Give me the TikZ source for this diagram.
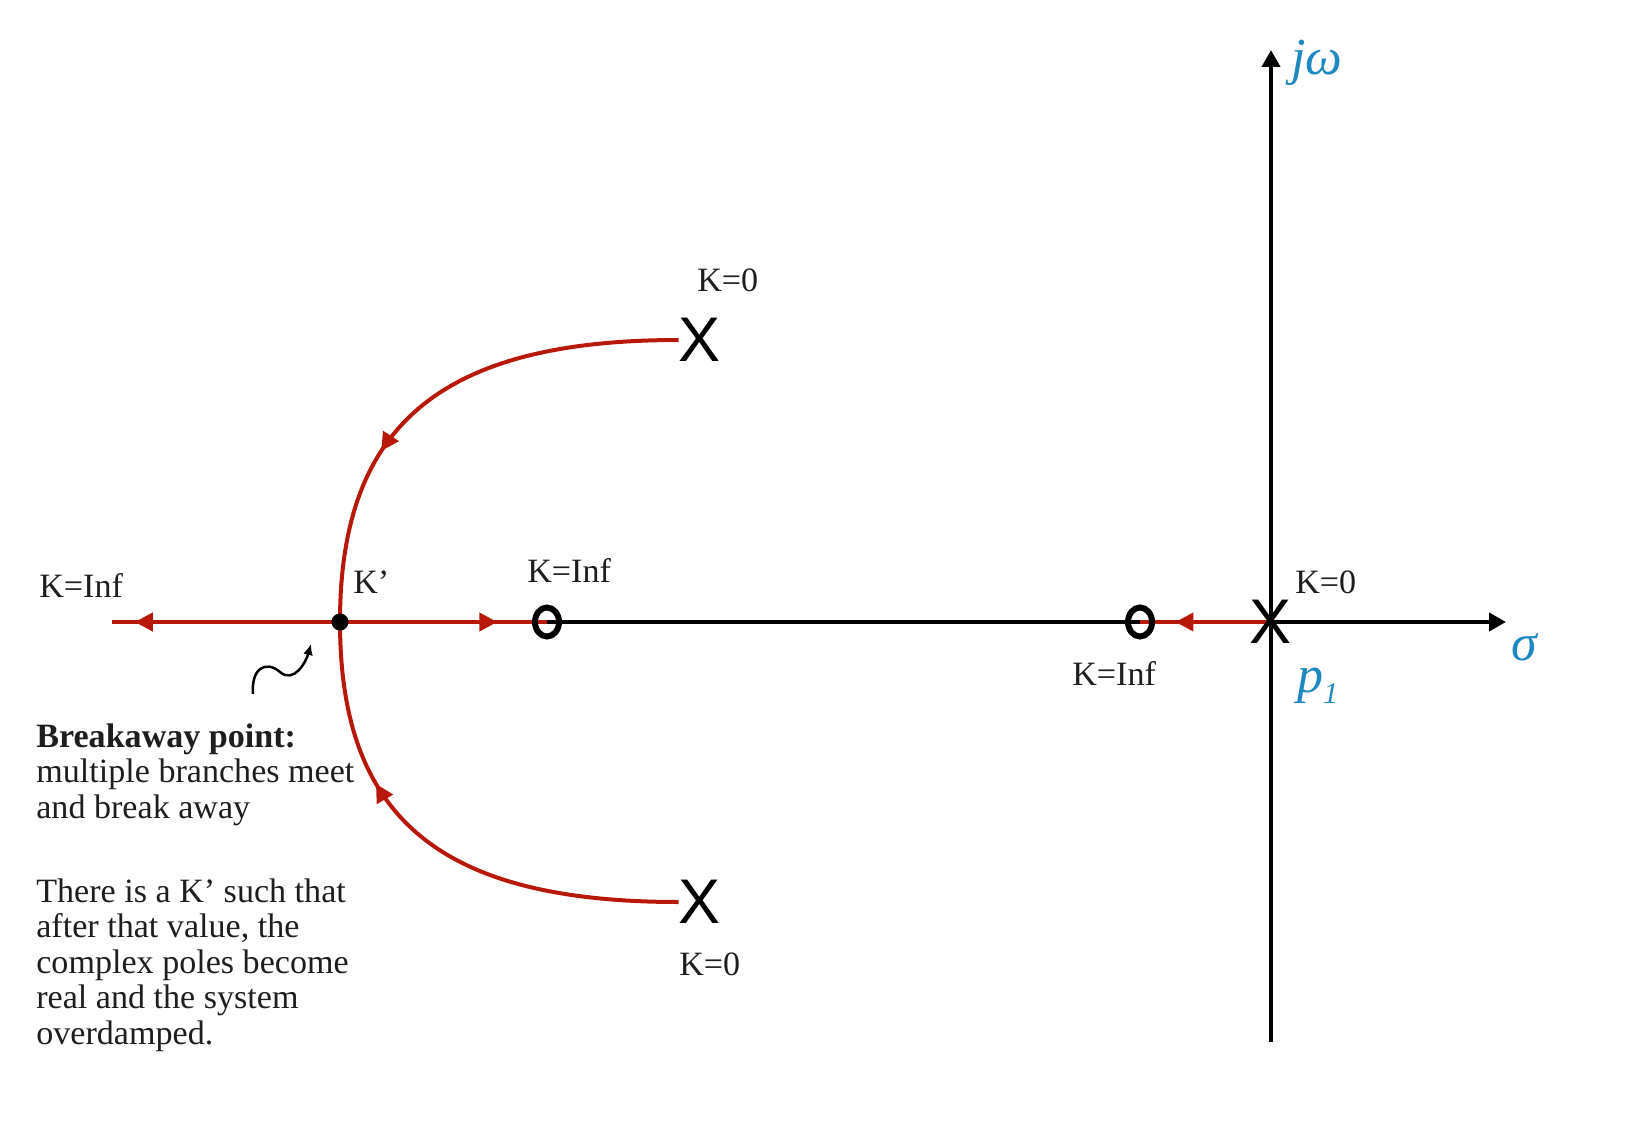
\documentclass[tikz,border=0pt]{standalone}
\usepackage{fontspec}
\setmainfont{Liberation Serif}
\newfontfamily\polefont{Liberation Sans}
\usetikzlibrary{positioning}
\usetikzlibrary{calc}
\usetikzlibrary{arrows.meta,shapes.geometric,decorations.markings}
\definecolor{locusred}{RGB}{184,24,10}
\definecolor{axisblue}{RGB}{30,136,192}
\definecolor{textgray}{RGB}{30,30,30}
\pgfdeclarelayer{bg}
\pgfsetlayers{bg,main}
\tikzset{
  axis/.style={line width=0.08cm,black},
  locus/.style={line width=0.08cm,locusred},
  pole/.style={inner sep=0pt,font=\polefont\fontsize{35.9pt}{36pt}\selectfont},
  zero/.style={ellipse,draw,line width=0.12cm,minimum width=0.48cm,minimum height=0.58cm,inner sep=0pt},
  breakdot/.style={circle,fill,inner sep=0pt,minimum size=0.34cm},
  klabel/.style={inner sep=0pt,anchor=base west,text=textgray,font=\fontsize{19.4pt}{20.2pt}\selectfont},
  axlabel/.style={inner sep=0pt,anchor=base west,text=axisblue,font=\fontsize{29.6pt}{30pt}\selectfont\itshape},
  note/.style={inner sep=0pt,anchor=base west,align=left,text=textgray,font=\fontsize{19.4pt}{20.2pt}\selectfont},
  midarrow/.style={postaction={decorate,decoration={markings,mark=at position #1 with {\arrow{Triangle[length=0.36cm,width=0.36cm]}}}}}
}

\begin{document}
\begin{tikzpicture}[x=0.02cm,y=-0.02cm]
\useasboundingbox (0,0) rectangle (1626,1142);
\node[breakdot](ba) at (340,622){};
\node[pole](p1) at (1271,622){X};
\node[pole](p2) at (700,340){X};
\node[pole](p3) at (700,902){X};
\node[zero](z1) at (547,622){};
\node[zero](z2) at (1140,622){};
\coordinate (sigend) at (1506,622);
\coordinate (jwtop) at (1271,50);
\coordinate (jwbot) at (1271,1042);
\coordinate (infL) at (112,622);
\coordinate (sqstart) at (253,694);
\coordinate (sqend) at (311,644);

\node[klabel](kinfL) at (39,597){K=Inf};
\node[klabel](kprime) at (353,593){K’};
\node[klabel](kinfM) at (527,582){K=Inf};
\node[klabel](kinfR) at (1072,685){K=Inf};
\node[klabel](kzeroR) at (1295,593){K=0};
\node[klabel](kzeroT) at (697,292){K=0};
\node[klabel](kzeroB) at (679,975){K=0};
\node[axlabel](jw) at (1291,75){jω};
\node[axlabel](sigma) at (1511,660){σ};
\node[axlabel](pone) at (1297,692){p\raisebox{-0.22em}{\fontsize{17pt}{17pt}\selectfont 1}};
\node[note](brk) at (36,818){\textbf{Breakaway point:}\\multiple branches meet\\and break away};
\node[note](expl) at (36,1044){There is a K’ such that\\after that value, the\\complex poles become\\real and the system\\overdamped.};

\begin{pgfonlayer}{bg}
\draw[axis,-{Triangle[length=0.34cm,width=0.36cm]}] (z1.center) -- (sigend);
\draw[axis,-{Triangle[length=0.34cm,width=0.36cm]}] (jwbot) -- (jwtop);
\draw[locus,midarrow=0.9] (ba.center) -- (infL);
\draw[locus,midarrow=0.76] (ba.center) -- (z1.center);
\draw[locus,midarrow=0.73] (p1.center) -- (z2.center);
\draw[locus,midarrow=0.65] (p2.west) .. controls +(-240,0) and +(0,-195) .. (ba.center);
\draw[locus,midarrow=0.67] (p3.west) .. controls +(-240,0) and +(0,195) .. (ba.center);
\draw[line width=0.05cm,-{Latex[length=0.22cm,width=0.2cm]}] (sqstart) .. controls (251,668) and (266,660) .. (280,672) .. controls (294,684) and (306,662) .. (sqend);
\end{pgfonlayer}
\end{tikzpicture}
\end{document}
